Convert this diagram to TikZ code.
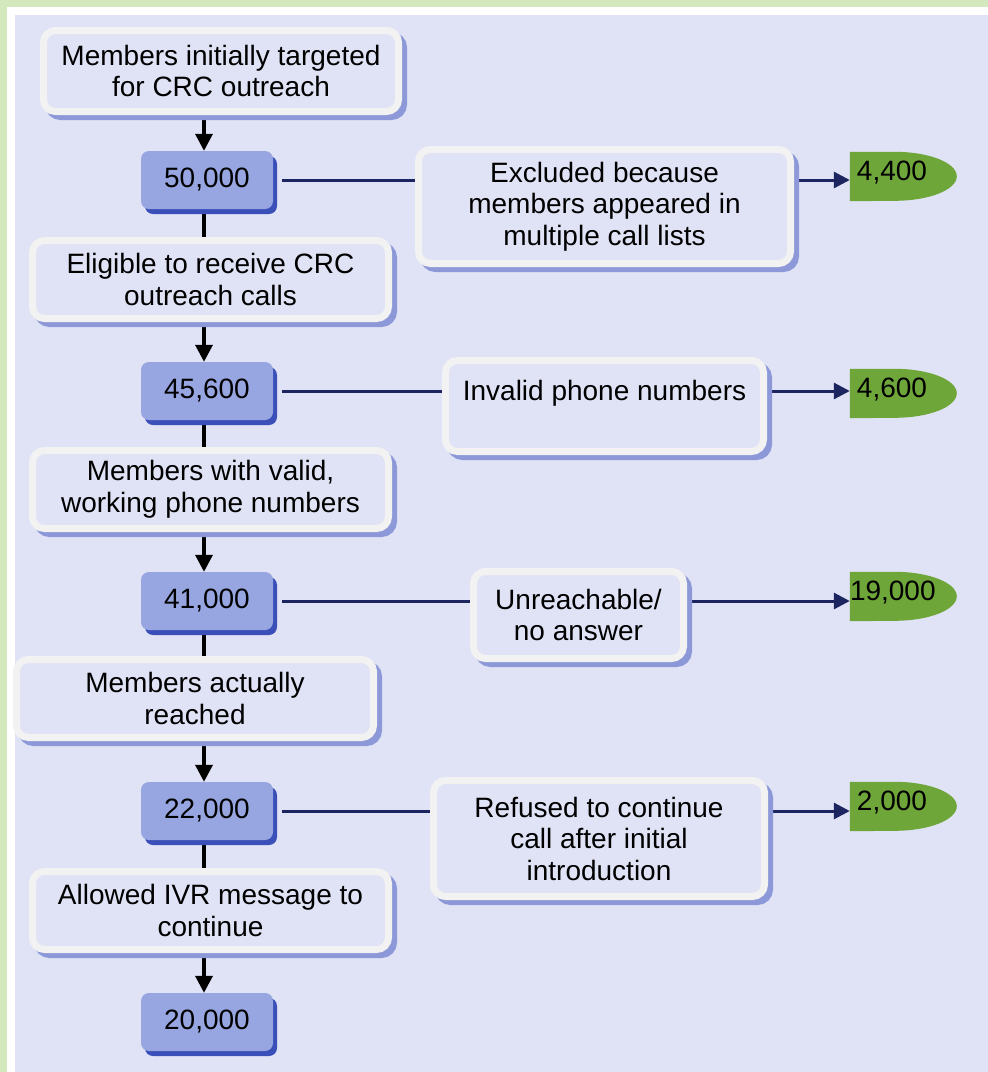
\documentclass[tikz,border=0pt]{standalone}
\usepackage{fontspec}
\setmainfont{Liberation Sans}
\usepackage{xcolor}
\usepackage{tikz}
\usetikzlibrary{arrows.meta, backgrounds, positioning}
\definecolor{edgegreen}{HTML}{D4E8BE}
\definecolor{paper}{HTML}{E0E3F5}
\definecolor{boxrim}{HTML}{F2F2F2}
\definecolor{boxshade}{HTML}{8C98D7}
\definecolor{numfill}{HTML}{97A6E1}
\definecolor{numshade}{HTML}{3A4FB8}
\definecolor{tallygreen}{HTML}{6FA63A}
\definecolor{navy}{HTML}{1C2560}
\newcommand{\flowfont}{\fontsize{28pt}{31.5pt}\selectfont}
\tikzset{
    textbox/.style = {draw=boxrim, fill=paper, line width=7pt, rectangle, rounded corners=12pt, 
      inner sep=0pt, align=center, font=\flowfont, node distance=0em, 
      preaction={draw=boxshade, fill=boxshade, transform canvas={xshift=5pt, yshift=-5pt}}},
    numbox/.style = {fill=numfill, rectangle, rounded corners=8pt, inner sep=0pt, 
      minimum width=132pt, minimum height=58pt, font=\flowfont, node distance=0em, 
      preaction={fill=numshade, transform canvas={xshift=4pt, yshift=-5pt}}},
    tally/.style = {rectangle, inner sep=0pt, text width=84pt, align=center, 
      text height=28pt, text depth=21pt, font=\flowfont, node distance=0em},
    trunkline/.style = {black, line width=3.5pt},
    trunkarrow/.style = {black, line width=3.5pt, -{Triangle[width=17pt, length=17pt]}},
    dropline/.style = {navy, line width=3pt, shorten <=9pt},
    droparrow/.style = {navy, line width=3pt, -{Triangle[width=16pt, length=16pt]}}
}
\begin{document}
\begin{tikzpicture}[x=1pt, y=-1pt]
    \useasboundingbox (0,0) rectangle (988,1072);
    \coordinate (trunk) at (204,0);

    \node [name=targeted, textbox, minimum width=355pt, minimum height=81pt] at (221,71) 
        {Members initially targeted\\for CRC outreach};
    \node [name=n50, numbox, below of = targeted, xshift=-14pt, yshift=-109pt] {50,000};
    \node [name=eligible, textbox, minimum width=356pt, minimum height=78pt, 
        below of = n50, xshift=3.5pt, yshift=-99.5pt] {Eligible to receive CRC\\outreach calls};
    \node [name=n45, numbox, below of = eligible, xshift=-3.5pt, yshift=-111.5pt] {45,600};
    \node [name=valid, textbox, minimum width=356pt, minimum height=78pt, 
        below of = n45, xshift=3.5pt, yshift=-98.5pt] {Members with valid,\\working phone numbers};
    \node [name=n41, numbox, below of = valid, xshift=-3.5pt, yshift=-111.5pt] {41,000};
    \node [name=reached, textbox, minimum width=357pt, minimum height=78pt, 
        below of = n41, xshift=-12pt, yshift=-97.5pt] {Members actually\\reached};
    \node [name=n22, numbox, below of = reached, xshift=12pt, yshift=-112.5pt] {22,000};
    \node [name=allowed, textbox, minimum width=356pt, minimum height=78pt, 
        below of = n22, xshift=3.5pt, yshift=-99.5pt] {Allowed IVR message to\\continue};
    \node [name=n20, numbox, below of = allowed, xshift=-3.5pt, yshift=-111.5pt] {20,000};

    \node [name=excluded, textbox, minimum width=372pt, minimum height=114pt, 
        right of = n50, xshift=397.5pt, yshift=-26.5pt] {Excluded because\\members appeared in\\multiple call lists};
    \node [name=invalid, textbox, minimum width=318pt, minimum height=91pt, 
        right of = n45, xshift=397.5pt, yshift=-15pt] {Invalid phone numbers\\~};
    \node [name=unreachable, textbox, minimum width=210pt, minimum height=87pt, 
        right of = n41, xshift=371.5pt, yshift=-14pt] {Unreachable/\\no answer};
    \node [name=refused, textbox, minimum width=331pt, minimum height=116pt, 
        right of = n22, xshift=392pt, yshift=-27.5pt] {Refused to continue\\call after initial\\introduction};

    \node [name=g4400, tally, right of = n50, xshift=685pt, yshift=3.5pt] {4,400};
    \node [name=g4600, tally, right of = n45, xshift=685pt, yshift=-2.5pt] {4,600};
    \node [name=g19000, tally, right of = n41, xshift=685pt, yshift=4.5pt] {19,000};
    \node [name=g2000, tally, right of = n22, xshift=685pt, yshift=4.5pt] {2,000};

    \begin{scope}[on background layer]
        \fill [edgegreen] (0,0) rectangle (988,1072);
        \fill [white] (7,7) rectangle (988,1072);
        \fill [paper] (15,15) rectangle (988,1072);

        \fill [tallygreen] (g4400.north west) -- ([xshift=45pt]g4400.north west) 
            arc [start angle=90, end angle=-90, x radius=62pt, y radius=24.5pt] -- (g4400.south west) -- cycle;
        \fill [tallygreen] (g4600.north west) -- ([xshift=45pt]g4600.north west) 
            arc [start angle=90, end angle=-90, x radius=62pt, y radius=24.5pt] -- (g4600.south west) -- cycle;
        \fill [tallygreen] (g19000.north west) -- ([xshift=45pt]g19000.north west) 
            arc [start angle=90, end angle=-90, x radius=62pt, y radius=24.5pt] -- (g19000.south west) -- cycle;
        \fill [tallygreen] (g2000.north west) -- ([xshift=45pt]g2000.north west) 
            arc [start angle=90, end angle=-90, x radius=62pt, y radius=24.5pt] -- (g2000.south west) -- cycle;

        \draw [trunkarrow] (targeted.south -| trunk) -- (n50.north -| trunk);
        \draw [trunkline] (n50.south -| trunk) -- (eligible.north -| trunk);
        \draw [trunkarrow] (eligible.south -| trunk) -- (n45.north -| trunk);
        \draw [trunkline] (n45.south -| trunk) -- (valid.north -| trunk);
        \draw [trunkarrow] (valid.south -| trunk) -- (n41.north -| trunk);
        \draw [trunkline] (n41.south -| trunk) -- (reached.north -| trunk);
        \draw [trunkarrow] (reached.south -| trunk) -- (n22.north -| trunk);
        \draw [trunkline] (n22.south -| trunk) -- (allowed.north -| trunk);
        \draw [trunkarrow] (allowed.south -| trunk) -- (n20.north -| trunk);

        \draw [dropline] (n50.east) -- (n50 -| excluded.west);
        \draw [droparrow] (excluded.east |- n50) -- (g4400.west |- n50);
        \draw [dropline] (n45.east) -- (n45 -| invalid.west);
        \draw [droparrow] (invalid.east |- n45) -- (g4600.west |- n45);
        \draw [dropline] (n41.east) -- (n41 -| unreachable.west);
        \draw [droparrow] (unreachable.east |- n41) -- (g19000.west |- n41);
        \draw [dropline] (n22.east) -- (n22 -| refused.west);
        \draw [droparrow] (refused.east |- n22) -- (g2000.west |- n22);
    \end{scope}
\end{tikzpicture}
\end{document}
